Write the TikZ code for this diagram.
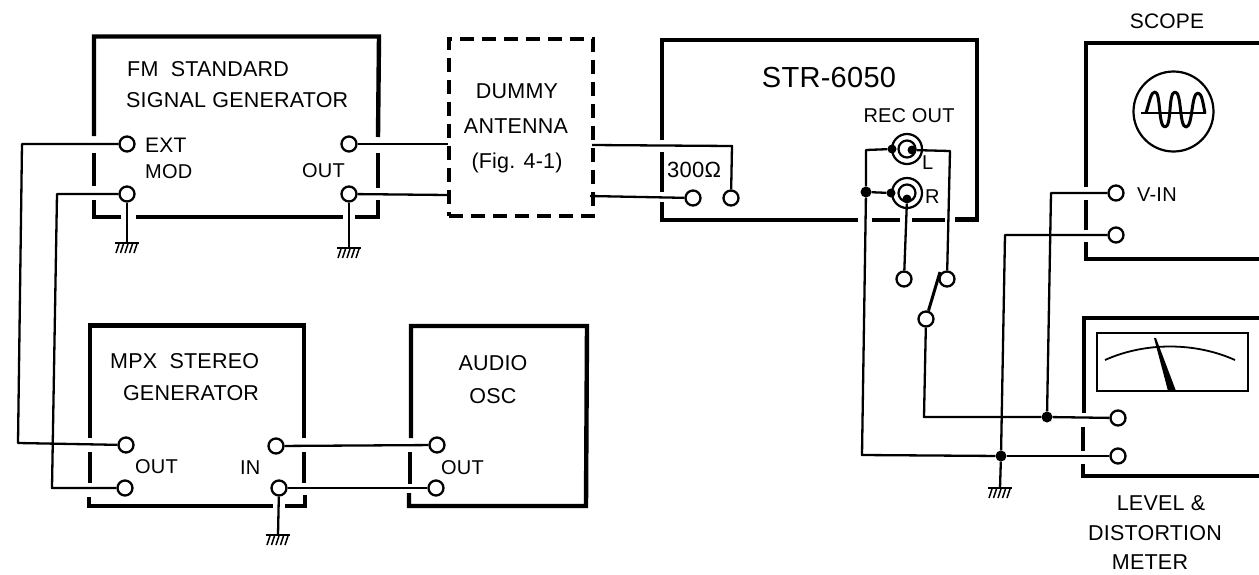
\documentclass[tikz,border=0pt]{standalone}
\usepackage{fontspec}
\setmainfont[LetterSpace=1]{Liberation Sans}
\tikzset{
 wall/.style={line width=4.4pt,black,line cap=butt,line join=miter},
 wire/.style={line width=2.3pt,black,line join=round},
 term/.style={circle,draw=black,line width=2.3pt,fill=white,minimum size=15pt,inner sep=0pt},
 junc/.style={circle,fill=black,minimum size=11pt,inner sep=0pt},
 lbl/.style={inner sep=0pt,text=black,font=\fontsize{21.5}{26}\selectfont},
 lbls/.style={inner sep=0pt,text=black,font=\fontsize{20}{24}\selectfont},
 gnd/.pic={
  \draw[line width=2.6pt] (-12,0) -- (12,0);
  \foreach \k in {-8,-3.5,1,5.5,10}{\draw[line width=1.5pt] (\k,1) -- (\k-3,10);}
 }
}
\begin{document}
\begin{tikzpicture}[x=1pt,y=-1pt]
\useasboundingbox (0,0) rectangle (1259,574);
% instrument walls
\draw[wall] (94,136) -- (94,36.5) -- (379,36.5) -- (378,137);
\draw[wall] (94,153) -- (94,186);
\draw[wall] (94,200) -- (94,217) -- (121,217);
\draw[wall] (136,217) -- (343,217);
\draw[wall] (355,217) -- (378,217) -- (378,200);
\draw[wall] (378,153) -- (378,188);
\draw[wall] (662,140) -- (662,40) -- (977,40) -- (977,219.5) -- (955,219.5);
\draw[wall] (945,220) -- (912,220);
\draw[wall] (900,220) -- (872,220);
\draw[wall] (858,220) -- (662,220) -- (662,202);
\draw[wall] (662,152) -- (662,192);
\draw[wall] (1259,43) -- (1086,43) -- (1086,187);
\draw[wall] (1086,200) -- (1086,230);
\draw[wall] (1086,242) -- (1086,259) -- (1259,259);
\draw[wall] (1259,318) -- (1084,318) -- (1084,413);
\draw[wall] (1083,427) -- (1083,451);
\draw[wall] (1083,464) -- (1083,476) -- (1259,476);
\draw[wall] (90,438) -- (90,325.5) -- (304,325.5) -- (304,438);
\draw[wall] (90,452) -- (90,483);
\draw[wall] (89,497) -- (89,506) -- (273,506);
\draw[wall] (285,506) -- (305,506) -- (305,495);
\draw[wall] (304,452) -- (304,483);
\draw[wall] (411,438) -- (411,326) -- (587,326) -- (586,506) -- (409,506) -- (409,493);
\draw[wall] (410,452) -- (410,484);
% dummy antenna
\node[draw=black,line width=3.2pt,dash pattern=on 14pt off 8pt,minimum width=144pt,minimum height=177pt,inner sep=0pt] (dummy) at (521,127.5) {};
% scope and meter faces
\node[circle,draw=black,line width=2.2pt,minimum size=80pt,inner sep=0pt] (crt) at (1173.5,111.5) {};
\draw[line width=1.8pt] (1141,113) -- (1206,113);
\draw[line width=3pt,line join=round] (1146,113) .. controls (1150,100) and (1151,92) .. (1155,92) .. controls (1161,92) and (1158,127) .. (1165,127) .. controls (1172,127) and (1168,92) .. (1175,92) .. controls (1182,92) and (1179,127) .. (1186,127) .. controls (1193,127) and (1191,93) .. (1198,93) .. controls (1202,93) and (1203,104) .. (1205,113);
\node[draw=black,line width=1.8pt,minimum width=151pt,minimum height=58pt,inner sep=0pt] (window) at (1172.5,362) {};
\draw[line width=1.8pt] (1105,360) .. controls (1145,342) and (1195,342) .. (1235,360);
\fill (1154,338) -- (1156,338) -- (1176,391) -- (1168,391) -- cycle;
% terminals
\node[term] (ext) at (127,144) {};
\node[term] (mod) at (127,194) {};
\node[term] (fo1) at (349,144) {};
\node[term] (fo2) at (349,194) {};
\node[term] (ant1) at (731,198) {};
\node[term] (ant2) at (693,198) {};
\node[term] (mo1) at (126,445) {};
\node[term] (mo2) at (125,488) {};
\node[term] (min1) at (276,446) {};
\node[term] (min2) at (279,488) {};
\node[term] (ao1) at (437,445) {};
\node[term] (ao2) at (436,488) {};
\node[term] (vin) at (1116,193) {};
\node[term] (vgn) at (1116,235) {};
\node[term] (lv1) at (1118,418) {};
\node[term] (lv2) at (1118,456) {};
\node[term] (swr) at (904,279) {};
\node[term] (swl) at (947,279) {};
\node[term] (swc) at (926,319) {};
% jacks
\node[circle,draw=black,line width=2.2pt,minimum size=30pt,inner sep=0pt] (jl) at (907,149) {};
\node[circle,draw=black,line width=2.2pt,minimum size=17pt,inner sep=0pt] (jli) at (907,149) {};
\node[circle,draw=black,line width=2.2pt,minimum size=30pt,inner sep=0pt] (jr) at (907,193) {};
\node[circle,draw=black,line width=2.2pt,minimum size=17pt,inner sep=0pt] (jri) at (907,193) {};
\node[junc,minimum size=9pt] (jl1) at (892,149) {};
\node[junc,minimum size=9pt] (jl2) at (912,150) {};
\node[junc,minimum size=9pt] (jr1) at (891,193) {};
\node[junc,minimum size=9pt] (jr2) at (907,199) {};
\node[junc] (jn1) at (866,192) {};
\node[junc] (jn2) at (1047,417) {};
\node[junc] (jn3) at (1001,456) {};
% connectors
\coordinate (dl1) at (448,144);
\coordinate (dl2) at (448,195);
\coordinate (dr1) at (592,145);
\coordinate (dr2) at (590,196);
\coordinate (g1) at (127,243);
\coordinate (g2) at (349,248);
\coordinate (g3) at (278,535);
\coordinate (g4) at (1000,488);
\draw[wire] (ext) -- (22,144) -- (18,443) -- (mo1);
\draw[wire] (mod) -- (57,194) -- (52,488) -- (mo2);
\draw[wire] (fo1) -- (dl1);
\draw[wire] (fo2) -- (dl2);
\draw[wire] (dr1) -- (732,146) -- (ant1);
\draw[wire] (dr2) -- (ant2);
\draw[wire] (min1) -- (ao1);
\draw[wire] (min2) -- (ao2);
\draw[wire] (mod) -- (g1);
\draw[wire] (fo2) -- (g2);
\draw[wire] (min2) -- (g3);
\draw[wire] (jn3) -- (g4);
\draw[wire] (jl1) -- (866,150) -- (jn1);
\draw[wire] (jn1) -- (862,455) -- (jn3);
\draw[wire] (jn1) -- (jr1);
\draw[wire] (jl2) -- (950,151) -- (swl);
\draw[wire] (jr2) -- (swr);
\draw[wire] (swc) -- (924,417) -- (jn2);
\draw[wire] (jn2) -- (lv1);
\draw[wire] (jn3) -- (lv2);
\draw[wire] (vin) -- (1051,193) -- (jn2);
\draw[wire] (vgn) -- (1005,235) -- (jn3);
\coordinate (blade) at (940,272);
\draw[line width=3pt] (swc) -- (blade);
\pic at (g1) {gnd};
\pic at (g2) {gnd};
\pic at (g3) {gnd};
\pic at (g4) {gnd};
% labels
\node[lbl,anchor=west] (t1) at (127,69) {FM\ \ STANDARD};
\node[lbl,anchor=west] (t2) at (126,100) {SIGNAL GENERATOR};
\node[lbls,anchor=west,font=\fontsize{21}{25}\selectfont] (t3) at (145,145) {EXT};
\node[lbls,anchor=west] (t4) at (145,172) {MOD};
\node[lbls,anchor=west] (t5) at (302,171) {OUT};
\node[lbl] (t6) at (517,91) {DUMMY};
\node[lbl] (t7) at (516,126) {ANTENNA};
\node[lbls,font=\fontsize{21.5}{26}\selectfont] (t8) at (517,163) {(Fig. 4-1)};
\node[lbls,anchor=west,font=\fontsize{22}{26}\selectfont] (t9) at (667,170) {300Ω};
\node[inner sep=0pt,font=\fontsize{29}{34}\selectfont] (t10) at (829,78) {STR-6050};
\node[lbls] (t11) at (909,116) {REC OUT};
\node[lbls,anchor=west] (t12) at (922,163) {L};
\node[lbls,anchor=west] (t13) at (925,197) {R};
\node[lbls,font=\fontsize{21}{25}\selectfont] (t14) at (1167,21) {SCOPE};
\node[lbls,anchor=west] (t15) at (1137,195) {V-IN};
\node[lbl] (t16) at (1161,503) {LEVEL \&};
\node[lbl] (t17) at (1155,533) {DISTORTION};
\node[lbl] (t18) at (1150,562) {METER};
\node[lbl,anchor=west] (t19) at (110,361) {MPX\ \ STEREO};
\node[lbl] (t20) at (191,393) {GENERATOR};
\node[lbls,anchor=west] (t21) at (135,467) {OUT};
\node[lbls,anchor=west] (t22) at (240,468) {IN};
\node[lbl] (t23) at (493,363) {AUDIO};
\node[lbl] (t24) at (493,396) {OSC};
\node[lbls,anchor=west] (t25) at (441,468) {OUT};
\end{tikzpicture}
\end{document}
